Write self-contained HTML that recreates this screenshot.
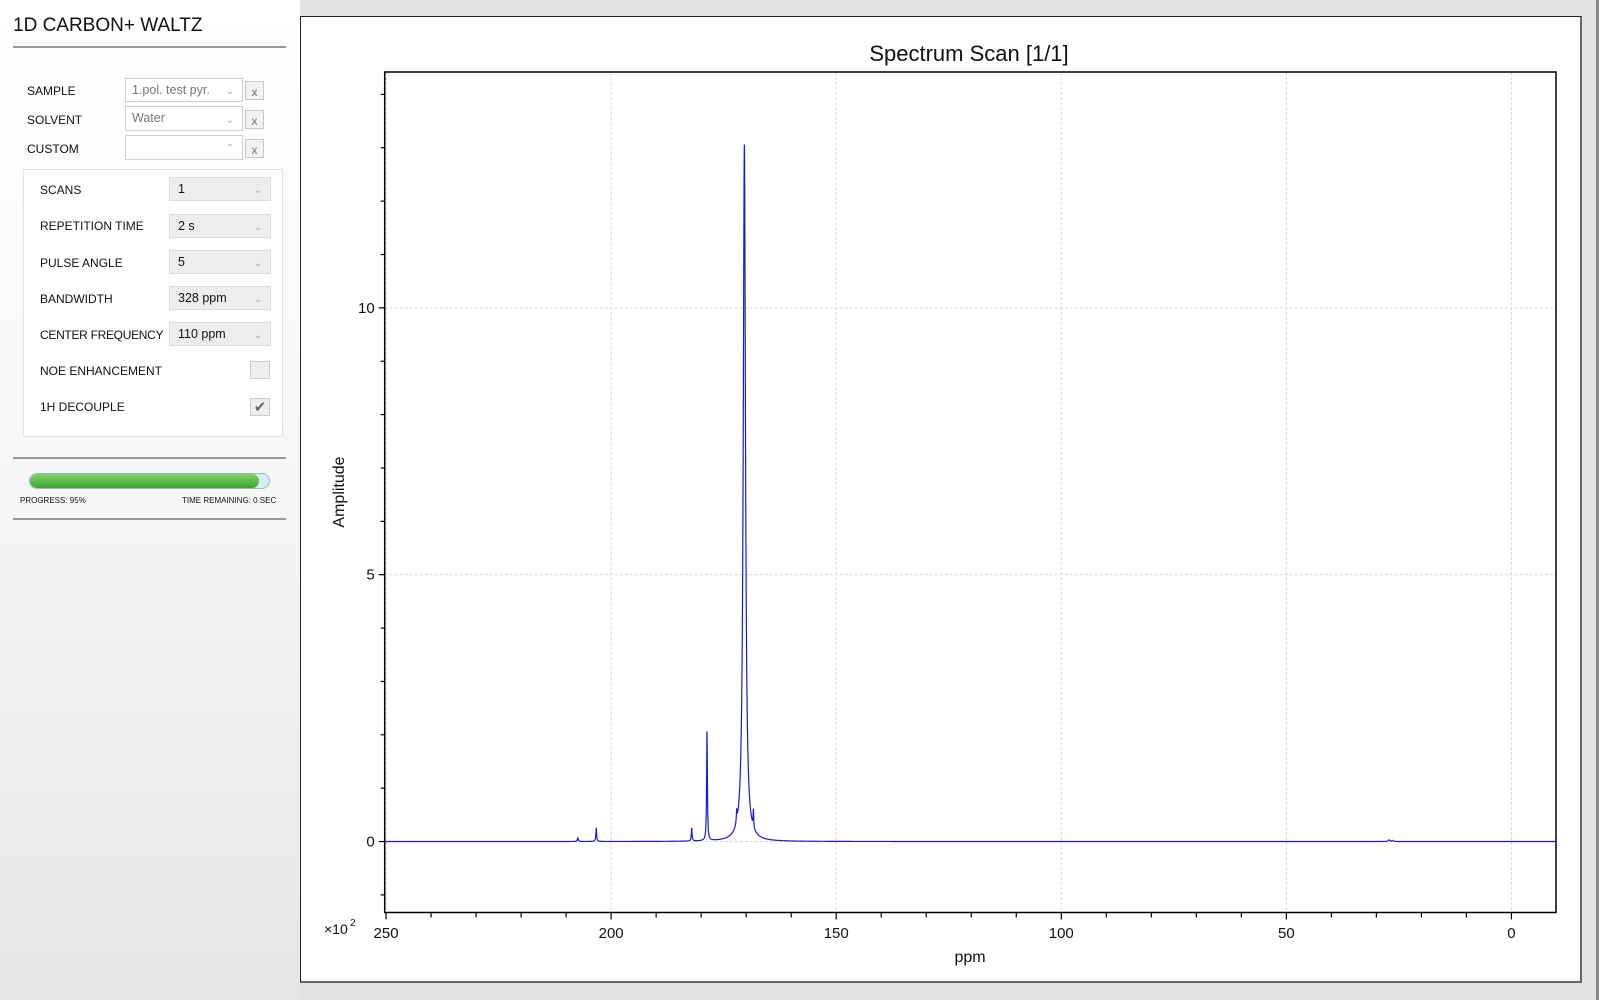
<!DOCTYPE html>
<html><head><meta charset="utf-8">
<style>
html,body{margin:0;padding:0;}
body{width:1599px;height:1000px;position:relative;overflow:hidden;font-family:"Liberation Sans",sans-serif;background:#e4e4e4;}
#left{position:absolute;left:0;top:0;width:300px;height:1000px;background:linear-gradient(#ffffff,#f6f6f6 50%,#e6e6e6);}
.abs{position:absolute;}
.lbl{position:absolute;font-size:12px;color:#111;}
.dd{position:absolute;background:#fff;border:1px solid #cfcfcf;box-sizing:border-box;font-size:12.5px;color:#777;padding-left:6px;}
.dd2{position:absolute;background:#ededed;border:1px solid #dcdcdc;box-sizing:border-box;font-size:12.5px;color:#111;padding-left:8px;}
.chev{position:absolute;right:8px;top:2px;font-size:10px;color:#aaa;}
.xb{position:absolute;width:19px;height:19px;border:1px solid #c8c8c8;box-sizing:border-box;background:#f2f2f2;font-size:12px;color:#777;text-align:center;line-height:20px;}
</style></head><body>
<div id="left">
  <div class="abs" style="left:13px;top:15px;font-size:19px;color:#111;">1D CARBON+ WALTZ</div>
  <div class="abs" style="left:13px;top:46px;width:273px;height:2px;background:#999;"></div>

  <div class="lbl" style="left:27px;top:84px;">SAMPLE</div>
  <div class="dd" style="left:125px;top:78px;width:118px;height:24px;line-height:22px;">1.pol. test pyr.<span class="chev">&#8964;</span></div>
  <div class="xb" style="left:245px;top:81px;">x</div>
  <div class="lbl" style="left:27px;top:113px;">SOLVENT</div>
  <div class="dd" style="left:125px;top:106px;width:118px;height:25px;line-height:23px;">Water<span class="chev">&#8964;</span></div>
  <div class="xb" style="left:245px;top:110px;">x</div>
  <div class="lbl" style="left:27px;top:142px;">CUSTOM</div>
  <div class="dd" style="left:125px;top:135px;width:118px;height:25px;"><span class="chev">&#8964;</span></div>
  <div class="xb" style="left:245px;top:139px;">x</div>

  <div class="abs" style="left:23px;top:169px;width:260px;height:268px;background:#fff;border:1px solid #e2e2e2;box-sizing:border-box;"></div>
  <div class="lbl" style="left:40px;top:183px;">SCANS</div>
  <div class="dd2" style="left:169px;top:177px;width:102px;height:24px;line-height:22px;">1<span class="chev">&#8964;</span></div>
  <div class="lbl" style="left:40px;top:219px;">REPETITION TIME</div>
  <div class="dd2" style="left:169px;top:214px;width:102px;height:24px;line-height:22px;">2 s<span class="chev">&#8964;</span></div>
  <div class="lbl" style="left:40px;top:256px;">PULSE ANGLE</div>
  <div class="dd2" style="left:169px;top:250px;width:102px;height:24px;line-height:22px;">5<span class="chev">&#8964;</span></div>
  <div class="lbl" style="left:40px;top:292px;">BANDWIDTH</div>
  <div class="dd2" style="left:169px;top:286px;width:102px;height:24px;line-height:22px;">328 ppm<span class="chev">&#8964;</span></div>
  <div class="lbl" style="left:40px;top:328px;letter-spacing:-0.3px;">CENTER FREQUENCY</div>
  <div class="dd2" style="left:169px;top:322px;width:102px;height:24px;line-height:22px;">110 ppm<span class="chev">&#8964;</span></div>
  <div class="lbl" style="left:40px;top:364px;">NOE ENHANCEMENT</div>
  <div class="abs" style="left:250px;top:361px;width:20px;height:18px;background:#eee;border:1px solid #ccc;box-sizing:border-box;"></div>
  <div class="lbl" style="left:40px;top:400px;">1H DECOUPLE</div>
  <div class="abs" style="left:250px;top:398px;width:20px;height:18px;background:#eee;border:1px solid #ccc;box-sizing:border-box;color:#666;font-size:15px;line-height:17px;text-align:center;">&#10004;</div>

  <div class="abs" style="left:13px;top:457px;width:273px;height:2px;background:#999;"></div>
  <div class="abs" style="left:29px;top:473px;width:241px;height:16px;border-radius:8px;background:#d8eef0;border:1px solid #9bb;box-sizing:border-box;overflow:hidden;">
    <div style="width:229px;height:100%;border-radius:7px;background:linear-gradient(#7fd46a,#3fa52f);"></div>
  </div>
  <div class="abs" style="left:20px;top:496px;font-size:8px;color:#111;">PROGRESS: 95%</div>
  <div class="abs" style="left:182px;top:496px;font-size:8px;color:#111;">TIME REMAINING: 0 SEC</div>
  <div class="abs" style="left:13px;top:518px;width:273px;height:2px;background:#999;"></div>
</div>

<div class="abs" style="left:300px;top:16px;width:1282px;height:967px;background:#fff;border:1px solid #222;border-right:2px solid #666;border-bottom:2px solid #666;box-sizing:border-box;"></div>
<div class="abs" style="left:1596px;top:0;width:3px;height:1000px;background:#888;"></div>

<svg id="chart" class="abs" style="left:0;top:0;" width="1599" height="1000"></svg>

<script>
const xTicks = [250, 200, 150, 100, 50, 0];
const yTicks = [0, 5, 10];
const peakPpm = [170.4, 178.7, 182.1, 172.1, 168.4, 203.3, 207.4, 27.2, 26.4];
const peakHeight = [13.05, 2.04, 0.24, 0.22, 0.32, 0.25, 0.07, 0.03, 0.02];
const peakWidth = [0.3, 0.1, 0.1, 0.1, 0.08, 0.1, 0.12, 0.2, 0.2];

const NS = 'http://www.w3.org/2000/svg';
const svg = document.getElementById('chart');
const L = 384.7, R = 1556, T = 72, B = 912.5;
const xMin = -9.9, xMax = 250.3, yMin = -1.33, yMax = 14.42;
function xs(p){ return L + (xMax - p) / (xMax - xMin) * (R - L); }
function ys(v){ return B - (v - yMin) / (yMax - yMin) * (B - T); }
function mk(tag, attrs, txt){
  const e = document.createElementNS(NS, tag);
  for (const k in attrs) e.setAttribute(k, attrs[k]);
  if (txt !== undefined) e.textContent = txt;
  svg.appendChild(e); return e;
}
xTicks.forEach(t => {
  const g = mk('line', {x1: xs(t), x2: xs(t), y1: T, y2: B, stroke: '#d8d8d8', 'stroke-dasharray': '3,2'});
  
  
});
yTicks.forEach(t => {
  const g = mk('line', {x1: L, x2: R, y1: ys(t), y2: ys(t), stroke: '#d8d8d8', 'stroke-dasharray': '3,2'});
  
  
});
function spec(p){
  let v = 0;
  for (let k = 0; k < peakPpm.length; k++) {
    const w = peakWidth[k], dx = p - peakPpm[k];
    v += peakHeight[k] * w * w / (dx * dx + w * w);
  }
  return v;
}
const pts = [];
const N = 8000;
for (let i = 0; i <= N; i++) pts.push(xMax - (xMax - xMin) * i / N);
peakPpm.forEach(p => pts.push(p));
pts.sort((a, b) => b - a);
let d = '';
pts.forEach((p, i) => { d += (i ? 'L' : 'M') + xs(p).toFixed(2) + ' ' + ys(spec(p)).toFixed(2); });
const line = mk('path', {d: d, fill: 'none', stroke: '#1a1ad6', 'stroke-width': 1.2, 'stroke-linejoin': 'round'});



const box = mk('rect', {x: L, y: T, width: R - L, height: B - T, fill: 'none', stroke: '#000', 'stroke-width': 1.5});


for (let p = 250; p >= -9; p -= 10) {
  const major = p % 50 === 0;
  const t = mk('line', {x1: xs(p), x2: xs(p), y1: B, y2: B + (major ? 7 : 5), stroke: '#000', 'stroke-width': 1.2});
  
  
}
xTicks.forEach(t => {
  const e = mk('text', {x: xs(t), y: 938, 'text-anchor': 'middle', 'font-size': 15, fill: '#111'}, String(t));
  
  
});
for (let v = -1; v <= 14; v++) {
  const t = mk('line', {x1: L - (v % 5 === 0 ? 6 : 4), x2: L, y1: ys(v), y2: ys(v), stroke: '#000', 'stroke-width': 1.2});
  
  
}
yTicks.forEach(t => {
  const e = mk('text', {x: L - 10, y: ys(t) + 5, 'text-anchor': 'end', 'font-size': 15, fill: '#111'}, String(t));
  
  
});
const ttl = mk('text', {x: 969, y: 61, 'text-anchor': 'middle', 'font-size': 22, fill: '#111'}, 'Spectrum Scan [1/1]');


const xl = mk('text', {x: 970, y: 962, 'text-anchor': 'middle', 'font-size': 16, fill: '#111'}, 'ppm');


const yl = mk('text', {x: 0, y: 0, 'text-anchor': 'middle', 'font-size': 16, fill: '#111', transform: 'translate(344,492) rotate(-90)'}, 'Amplitude');


const sc = mk('text', {x: 324, y: 934, 'font-size': 14, fill: '#111'}, '×10');


const sc2 = mk('text', {x: 350, y: 926, 'font-size': 10, fill: '#111'}, '2');


</script>
</body></html>
